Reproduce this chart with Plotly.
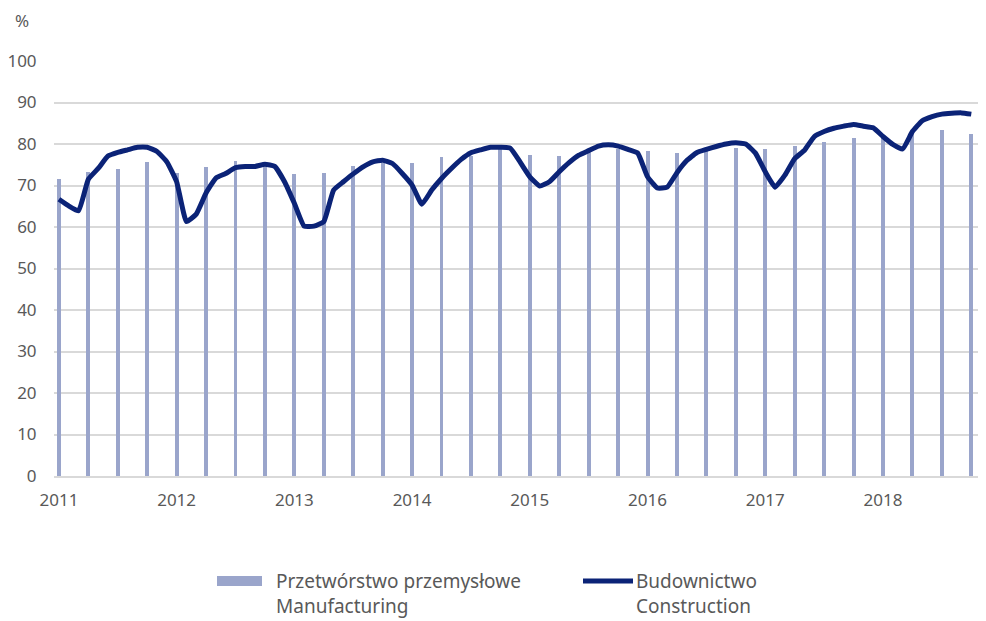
import plotly.graph_objects as go

# Month index 0 = Jan 2011
year_ticks = [0, 12, 24, 36, 48, 60, 72, 84]
year_labels = ["2011", "2012", "2013", "2014", "2015", "2016", "2017", "2018"]

# Manufacturing (quarterly, first month of quarter)
manuf_months = list(range(0, 94, 3))
manuf_values = [71.5, 73.2, 73.9, 75.7, 72.9, 74.5, 75.9, 75.6,
                72.7, 72.9, 74.7, 75.5, 75.5, 76.8, 77.2, 78.8,
                77.3, 77.1, 78.2, 78.8, 78.4, 77.8, 78.4, 79.1,
                78.7, 79.5, 80.5, 81.4, 81.5, 82.3, 83.4, 82.4]

# Construction (monthly)
constr_months = list(range(0, 94))
constr_values = [66.7, 65.1, 63.9, 71.5, 74.1, 77.1, 78.0, 78.6, 79.2, 79.2, 78.2, 75.7,
                 70.9, 61.3, 63.1, 68.2, 71.8, 72.9, 74.3, 74.6, 74.6, 75.1, 74.6, 70.9,
                 65.7, 60.2, 60.2, 61.3, 68.9, 70.9, 72.8, 74.5, 75.7, 76.1, 75.3, 72.9,
                 70.1, 65.5, 68.9, 71.7, 74.1, 76.3, 77.9, 78.6, 79.2, 79.2, 79.0, 75.7,
                 72.1, 69.9, 70.9, 73.3, 75.5, 77.3, 78.4, 79.5, 79.8, 79.5, 78.7, 77.8,
                 72.1, 69.4, 69.6, 73.1, 76.0, 77.9, 78.7, 79.4, 80.0, 80.3, 80.0, 77.8,
                 73.3, 69.6, 72.5, 76.5, 78.5, 81.8, 83.0, 83.8, 84.3, 84.7, 84.3, 83.9,
                 81.8, 79.9, 78.8, 83.0, 85.6, 86.6, 87.2, 87.4, 87.5, 87.2]

y_ticks = [0, 10, 20, 30, 40, 50, 60, 70, 80, 90, 100]

manuf_name = "Przetwórstwo przemysłowe<br>Manufacturing"
constr_name = "Budownictwo<br>Construction"

font_family = "Noto Sans, Open Sans, sans-serif"
text_color = "#595959"
grid_color = "#d9d9d9"
bar_color = "#9aa5cb"
line_color = "#0b2377"

fig = go.Figure()
fig.add_trace(go.Bar(
    x=manuf_months, y=manuf_values,
    name=manuf_name,
    marker=dict(color=bar_color, line=dict(width=0)),
    width=0.4,
))
fig.add_trace(go.Scatter(
    x=constr_months, y=constr_values,
    mode="lines",
    name=constr_name,
    line=dict(color=line_color, width=5, shape="spline", smoothing=0.4),
))

# plot area in page pixels (page has 8px body margin)
PL, PR, PT, PB = 54, 986, 61, 476


def px(xp):
    return (xp - PL) / (PR - PL)


def py(yp):
    return (PB - yp) / (PB - PT)


shapes = [
    dict(type="rect", xref="paper", yref="paper",
         x0=px(217), x1=px(262), y0=py(586), y1=py(576),
         fillcolor=bar_color, line=dict(width=0)),
    dict(type="line", xref="paper", yref="paper",
         x0=px(583), x1=px(633), y0=py(581), y1=py(581),
         line=dict(color=line_color, width=5)),
]


def legend_text(text, xp):
    return dict(text=text, xref="paper", yref="paper", x=px(xp), y=py(567),
                xanchor="left", yanchor="top", align="left", showarrow=False,
                borderpad=0,
                font=dict(size=19, color=text_color))


annotations = [
    dict(text="%", xref="paper", yref="paper", x=px(22), y=py(21),
         xanchor="center", yanchor="middle", showarrow=False,
         font=dict(size=17, color=text_color)),
    legend_text(manuf_name, 275),
    legend_text(constr_name, 635),
]

fig.update_layout(
    width=978, height=613,
    margin=dict(l=46, r=0, t=53, b=145, autoexpand=False),
    plot_bgcolor="white", paper_bgcolor="white",
    font=dict(family=font_family, color=text_color, size=17),
    bargap=0,
    showlegend=False,
    xaxis=dict(
        range=[-0.5, 94.5],
        tickmode="array", tickvals=year_ticks, ticktext=year_labels,
        showgrid=False, zeroline=False,
        showline=True, linecolor=grid_color, linewidth=1.5,
        ticks="outside", ticklen=8, tickcolor="rgba(0,0,0,0)",
        tickfont=dict(size=17, color=text_color),
    ),
    yaxis=dict(
        range=[0, 100],
        tickmode="array", tickvals=y_ticks,
        showgrid=True, gridcolor=grid_color, gridwidth=1.5,
        zeroline=False, showline=False,
        ticks="outside", ticklen=13, tickcolor="rgba(0,0,0,0)",
        tickfont=dict(size=17, color=text_color),
    ),
    shapes=shapes,
    annotations=annotations,
)

fig.write_html("out.html")
